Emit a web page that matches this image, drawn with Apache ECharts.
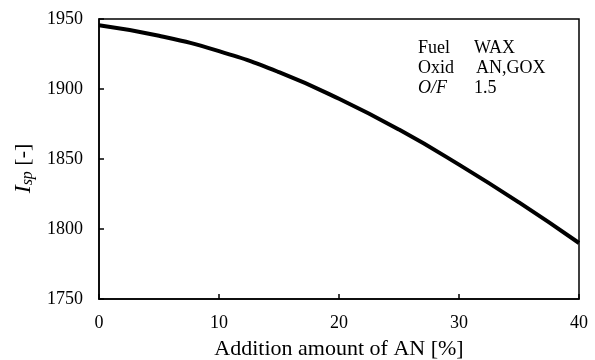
<!DOCTYPE html>
<html>
<head>
<meta charset="utf-8">
<script src="https://cdn.jsdelivr.net/npm/echarts@6/dist/echarts.min.js"></script>
<style>
  html, body { margin: 0; padding: 0; background: #fff; }
  #chart { width: 595px; height: 360px; }
</style>
</head>
<body>
<div id="chart"></div>
<script>
// AN 添加量 [%]
const anAmount = [0, 5, 10, 15, 20, 25, 30, 35, 40]
// 比推力 Isp [-]
const ispValues = [1945.5, 1938, 1927, 1912, 1893, 1871, 1846, 1819, 1790]
// 右上角条件说明
const condLabels = ['Fuel', 'Oxid', 'O/F']
const condValues = ['WAX', 'AN,GOX', '1.5']

const serif = '"Liberation Serif", "DejaVu Serif", serif'

const chart = echarts.init(document.getElementById('chart'))

// 条件文字用 graphic 画
const graphics = []
condLabels.forEach((label, i) => {
  graphics.push({
    type: 'text',
    left: 418,
    top: 39 + i * 20,
    style: {
      text: label,
      font: (label === 'O/F' ? 'italic ' : '') + '18px ' + serif,
      fill: '#000'
    }
  })
  graphics.push({
    type: 'text',
    left: i === 1 ? 476 : 474,
    top: 39 + i * 20,
    style: {
      text: condValues[i],
      font: '18px ' + serif,
      fill: '#000'
    }
  })
})

chart.setOption({
  animation: false,
  grid: {
    left: 99,
    right: 16,
    top: 19,
    bottom: 61,
    outerBoundsMode: 'none',
    show: true,
    borderColor: '#000',
    borderWidth: 1.5
  },
  xAxis: {
    type: 'value',
    min: 0,
    max: 40,
    interval: 10,
    name: 'Addition amount of AN [%]',
    nameLocation: 'middle',
    nameGap: 39,
    nameTextStyle: { fontFamily: serif, fontSize: 22, color: '#000' },
    axisLine: { lineStyle: { color: '#000', width: 1.5 } },
    axisTick: { inside: true, length: 5, lineStyle: { color: '#000', width: 1.5 } },
    axisLabel: { fontFamily: serif, fontSize: 18, color: '#000', margin: 15 },
    splitLine: { show: false }
  },
  yAxis: {
    type: 'value',
    min: 1750,
    max: 1950,
    interval: 50,
    name: '{i|I}{s|sp}{n| [-]}',
    nameLocation: 'middle',
    nameGap: 62,
    nameTextStyle: {
      padding: [0, 19, 0, 0],
      rich: {
        i: { fontFamily: serif, fontSize: 24, fontStyle: 'italic', color: '#000' },
        s: { fontFamily: serif, fontSize: 16, fontStyle: 'italic', color: '#000', verticalAlign: 'bottom', padding: [9, 0, 0, 0] },
        n: { fontFamily: serif, fontSize: 22, color: '#000' }
      }
    },
    axisLine: { show: true, lineStyle: { color: '#000', width: 1.5 } },
    axisTick: { show: true, inside: true, length: 5, lineStyle: { color: '#000', width: 1.5 } },
    axisLabel: {
      fontFamily: serif,
      fontSize: 18,
      color: '#000',
      margin: 16,
      formatter: (v) => String(v)
    },
    splitLine: { show: false }
  },
  series: [
    {
      type: 'line',
      data: anAmount.map((x, i) => [x, ispValues[i]]),
      smooth: true,
      showSymbol: false,
      lineStyle: { color: '#000', width: 4 }
    }
  ],
  graphic: graphics
})
</script>
</body>
</html>
